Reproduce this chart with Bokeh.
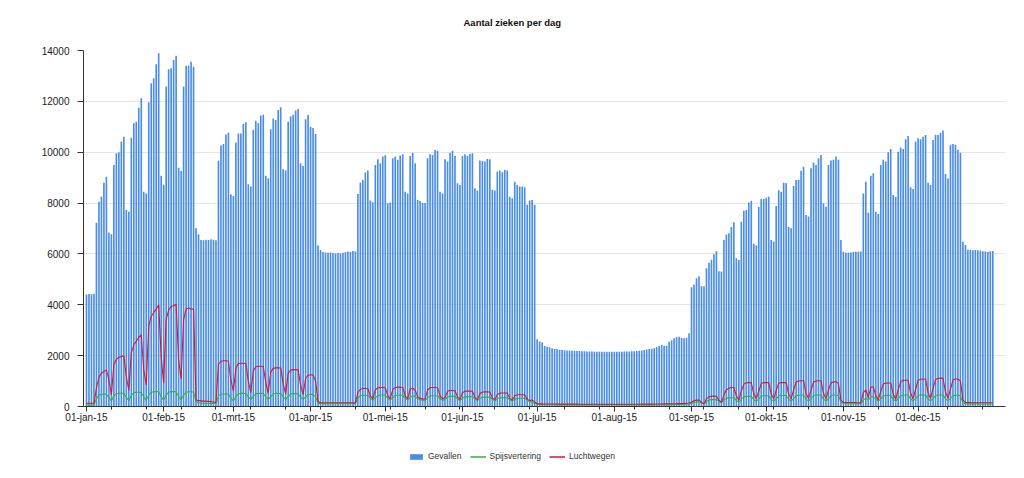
import pandas as pd
from bokeh.plotting import figure
from bokeh.layouts import column
from bokeh.core.properties import value
from bokeh.models import ColumnDataSource, FixedTicker, Legend, LegendItem
from bokeh.embed import file_html
from bokeh.resources import INLINE

# ---------------- data ----------------
title_text = "Aantal zieken per dag"
dates = pd.date_range("2015-01-01", "2015-12-31", freq="D")

month_labels = ["01-jan-15", "01-feb-15", "01-mrt-15", "01-apr-15", "01-mei-15", "01-jun-15",
                "01-jul-15", "01-aug-15", "01-sep-15", "01-okt-15", "01-nov-15", "01-dec-15"]

gevallen = [
    4400, 4420, 4410, 4430,
    7230, 8050, 8250, 8800, 9040, 6840, 6770,
    9500, 9960, 10000, 10420, 10610, 7730, 7660,
    10570, 11140, 11200, 11750, 12120, 8450, 8380,
    11960, 12710, 12910, 13460, 13890, 9070, 8720,
    12580, 13260, 13300, 13630, 13790, 9390, 9260,
    12580, 13400, 13400, 13560, 13360, 7010, 6770,
    6550, 6540, 6560, 6550, 6580, 6560, 6540,
    9660, 10260, 10320, 10700, 10770, 8350, 8280,
    10380, 10740, 10740, 11110, 11180, 8740, 8650,
    10880, 11240, 11140, 11440, 11470, 9070, 8970,
    10900, 11330, 11270, 11660, 11770, 9330, 9280,
    11200, 11400, 11470, 11640, 11700, 9560, 9460,
    11300, 11460, 11000, 10950, 10720, 6330, 6150,
    6080, 6060, 6050, 6060, 6040, 6020, 6040,
    6020, 6050, 6070, 6100, 6080, 6120, 6100,
    8360, 8800, 8910, 9200, 9280, 8100, 8030,
    9500, 9720, 9570, 9830, 9880, 7990, 8020,
    9760, 9830, 9700, 9870, 9920, 8450, 8380,
    9850, 9980, 9570, 8120, 8080, 8000, 8000,
    9760, 9920, 9890, 10090, 10060, 8450, 8380,
    9720, 9630, 9980, 10060, 9850, 8780, 8710,
    9850, 9920, 9850, 9930, 9960, 8580, 8490,
    9670, 9650, 9630, 9730, 9720, 8520, 8490,
    9240, 9280, 9210, 9300, 9280, 8250, 8190,
    8840, 8710, 8650, 8650, 8620, 7930, 8100,
    8120, 7930,
    2640, 2560, 2520, 2380, 2350, 2330, 2290, 2260, 2260, 2220,
    2220, 2210, 2200, 2200, 2190, 2190, 2180, 2180, 2170, 2170,
    2165, 2160, 2160, 2155, 2155, 2155, 2150, 2150, 2150, 2150,
    2150, 2155, 2150, 2155, 2155, 2160, 2160, 2165, 2170, 2175,
    2180, 2190, 2200, 2220, 2240, 2260, 2270, 2290, 2340, 2380,
    2420, 2390, 2390, 2550, 2610, 2680, 2720, 2740, 2690, 2680,
    2700, 2880,
    4690, 4800, 5040, 5120, 4730, 4730,
    5435, 5657, 5775, 5990, 6110, 5320, 5310,
    6548, 6760, 6810, 7060, 7250, 5830, 5760,
    7270, 7700, 7730, 8020, 8090, 6400, 6330,
    7850, 8160, 8160, 8210, 8250, 6550, 6480,
    7885, 8500, 8440, 8800, 8790, 7060, 7010,
    8670, 8910, 8910, 9275, 9430, 7530, 7470,
    9370, 9600, 9500, 9760, 9890, 7990, 7860,
    9500, 9670, 9700, 9830, 9700, 6550, 6090,
    6050, 6050, 6060, 6080, 6090, 6090, 6100,
    8380, 8840, 7620, 9070, 9170, 7660, 7570,
    9500, 9700, 9630, 10000, 10130, 8320, 8250,
    10020, 10190, 10130, 10510, 10640, 8620, 8550,
    10420, 10550, 10510, 10610, 10680, 8800, 8710,
    10480, 10680, 10680, 10770, 10850, 9140, 8970,
    10290, 10320, 10290, 10100, 9980,
    6480, 6350, 6160, 6150, 6140, 6150, 6140, 6130, 6110, 6100, 6080, 6110, 6120,
]

spijsvertering = [
    60, 60, 60, 60,
    300, 450, 480, 490, 480, 350, 220,
    420, 500, 520, 520, 510, 360, 230,
    440, 540, 560, 560, 550, 380, 240,
    460, 560, 580, 585, 580, 390, 250,
    460, 560, 580, 585, 580, 390, 250,
    460, 560, 580, 580, 560, 200, 150,
    130, 125, 120, 120, 120, 118, 118,
    420, 480, 490, 490, 480, 330, 220,
    400, 500, 515, 515, 510, 380, 280,
    400, 500, 515, 515, 510, 380, 280,
    390, 490, 510, 510, 505, 375, 280,
    390, 490, 505, 505, 500, 370, 280,
    380, 470, 480, 470, 380, 130, 110,
    110, 110, 110, 110, 110, 110, 110,
    110, 110, 110, 110, 110, 110, 110,
    330, 420, 440, 440, 430, 320, 250,
    350, 430, 450, 450, 440, 320, 250,
    350, 430, 445, 445, 440, 320, 250,
    350, 420, 400, 300, 270, 250, 240,
    340, 410, 420, 420, 415, 310, 240,
    280, 380, 400, 400, 395, 300, 235,
    320, 380, 390, 390, 385, 290, 230,
    310, 360, 370, 370, 365, 280, 225,
    300, 345, 350, 350, 345, 270, 220,
    280, 320, 325, 325, 320, 250, 200,
    180, 120,
    90, 80, 75, 72, 70, 68, 67, 66, 65, 65,
    64, 64, 63, 63, 62, 62, 62, 61, 61, 61,
    60, 60, 60, 60, 60, 60, 60, 60, 60, 60,
    60, 60, 60, 60, 60, 60, 60, 60, 60, 60,
    61, 61, 62, 62, 63, 63, 64, 65, 66, 67,
    68, 69, 70, 72, 74, 76, 78, 80, 82, 85,
    88, 95,
    120, 160, 180, 185, 140, 100,
    200, 250, 270, 275, 270, 200, 150,
    250, 320, 340, 345, 345, 240, 180,
    280, 380, 400, 405, 400, 270, 200,
    300, 400, 420, 425, 420, 280, 210,
    300, 410, 430, 435, 430, 285, 210,
    310, 420, 445, 450, 450, 290, 215,
    310, 430, 450, 455, 455, 290, 215,
    310, 430, 450, 455, 420, 180, 120,
    110, 110, 110, 110, 110, 110, 110,
    250, 330, 250, 380, 400, 280, 210,
    300, 410, 430, 435, 435, 290, 215,
    310, 420, 445, 450, 450, 295, 220,
    310, 430, 450, 455, 455, 300, 220,
    310, 430, 450, 455, 455, 300, 220,
    310, 420, 440, 440, 420,
    130, 110, 105, 104, 103, 102, 102, 101, 101, 100, 100, 100, 100,
]

luchtwegen = [
    130, 130, 130, 130,
    720, 1150, 1310, 1380, 1440, 1050, 460,
    1640, 1860, 1930, 1970, 1990, 1180, 630,
    2100, 2430, 2560, 2720, 2820, 1440, 850,
    3150, 3540, 3700, 3830, 4000, 1970, 920,
    3410, 3800, 3930, 3960, 4020, 1840, 1080,
    3410, 3830, 3870, 3840, 3830, 260, 230,
    220, 210, 200, 200, 190, 180, 160,
    1650, 1780, 1800, 1800, 1780, 1050, 600,
    1500, 1690, 1700, 1700, 1690, 1000, 550,
    1400, 1560, 1580, 1580, 1570, 950, 520,
    1350, 1500, 1520, 1520, 1510, 900, 500,
    1300, 1430, 1450, 1450, 1440, 850, 480,
    1100, 1230, 1250, 1240, 1000, 200, 150,
    150, 150, 150, 150, 150, 148, 148,
    146, 146, 145, 145, 145, 144, 144,
    550, 680, 710, 710, 700, 420, 300,
    650, 740, 750, 750, 740, 420, 300,
    660, 750, 760, 760, 750, 420, 300,
    680, 720, 650, 380, 320, 300, 290,
    650, 740, 750, 750, 740, 420, 300,
    350, 600, 630, 630, 620, 380, 280,
    540, 600, 605, 605, 600, 360, 270,
    500, 570, 575, 575, 570, 340, 260,
    470, 525, 530, 530, 525, 320, 250,
    420, 460, 465, 465, 455, 290, 230,
    260, 180,
    110, 105, 102, 100, 99, 98, 97, 96, 95, 95,
    94, 94, 93, 93, 92, 92, 92, 91, 91, 91,
    90, 90, 90, 90, 90, 90, 90, 90, 90, 90,
    90, 90, 90, 90, 90, 90, 90, 90, 90, 90,
    91, 91, 92, 92, 93, 94, 95, 96, 97, 98,
    100, 102, 104, 106, 108, 110, 112, 115, 118, 122,
    126, 135,
    180, 230, 250, 250, 160, 110,
    300, 380, 400, 410, 400, 250, 160,
    450, 650, 720, 750, 750, 420, 250,
    600, 880, 930, 940, 940, 500, 300,
    600, 900, 940, 940, 940, 500, 300,
    620, 910, 940, 945, 940, 500, 300,
    650, 960, 1000, 1010, 1015, 520, 310,
    650, 960, 1000, 1015, 1015, 520, 310,
    640, 930, 960, 980, 900, 250, 160,
    160, 158, 155, 155, 152, 150, 150,
    550, 650, 350, 760, 780, 420, 260,
    600, 880, 920, 925, 925, 480, 290,
    650, 980, 1020, 1030, 1030, 520, 300,
    680, 1030, 1070, 1080, 1080, 540, 310,
    700, 1060, 1100, 1115, 1115, 560, 320,
    680, 1040, 1080, 1080, 1000,
    250, 160, 155, 152, 150, 150, 150, 148, 148, 147, 146, 146, 145,
]

series_names = ["Gevallen", "Spijsvertering", "Luchtwegen"]

assert len(gevallen) == len(dates), len(gevallen)
assert len(spijsvertering) == len(dates), len(spijsvertering)
assert len(luchtwegen) == len(dates), len(luchtwegen)

day = list(range(len(dates)))
month_starts = [int(dates.get_loc(pd.Timestamp(2015, m, 1))) for m in range(1, 13)]
minor_ticks = [d for d in day if dates[d].dayofweek == 6 and (d - 10) % 14 == 0]

src = ColumnDataSource(dict(x=day, gevallen=gevallen, spijs=spijsvertering, lucht=luchtwegen))

FONT = "Liberation Sans"
BAR_COLOR = "#4a8de6"
GREEN = "#2fb62f"
RED = "#dc1432"


def strip(height):
    f = figure(width=1024, height=height, output_backend="svg", toolbar_location=None,
               x_range=(0, 922), y_range=(0, height), min_border=0,
               x_axis_location=None, y_axis_location=None,
               background_fill_color="white", border_fill_color="white")
    f.outline_line_color = None
    f.xgrid.grid_line_color = None
    f.ygrid.grid_line_color = None
    return f


# ---------------- title strip ----------------
tt = strip(30)
tt.text(x=[380], y=[8], text=[title_text], text_font=value(FONT), text_font_size="9.5px",
        text_font_style="bold", text_color="#111111", text_baseline="middle", text_align="left")

# ---------------- main chart ----------------
p = figure(width=1024, height=400, output_backend="svg", toolbar_location=None,
           x_range=(-1.2, 369.1), y_range=(0, 14000),
           min_border_left=83, min_border_right=19, min_border_top=20, min_border_bottom=24,
           background_fill_color="white", border_fill_color="white")
p.outline_line_color = None

p.vbar(x="x", top="gevallen", width=0.66, source=src, fill_color=BAR_COLOR, line_color=None)
p.line("x", "spijs", source=src, line_color=GREEN, line_width=1.1)
p.line("x", "lucht", source=src, line_color=RED, line_width=1.1)

p.xaxis.ticker = FixedTicker(ticks=month_starts, minor_ticks=minor_ticks)
p.xaxis.major_label_overrides = {s: lab for s, lab in zip(month_starts, month_labels)}
p.yaxis.ticker = FixedTicker(ticks=list(range(0, 14001, 2000)))
for ax in (p.xaxis[0], p.yaxis[0]):
    ax.axis_line_color = "#333333"
    ax.major_tick_line_color = "#333333"
    ax.minor_tick_line_color = "#333333"
    ax.major_tick_in = 0
    ax.minor_tick_in = 0
    ax.major_label_text_font = FONT
    ax.major_label_text_font_size = "10px"
    ax.major_label_text_color = "#222222"
p.xaxis.major_tick_out = 5
p.xaxis.minor_tick_out = 3
p.xaxis.major_label_standoff = 0
p.yaxis.major_tick_out = 6
p.yaxis.minor_tick_line_color = None
p.yaxis.major_label_standoff = 8

p.xgrid.grid_line_color = None
p.ygrid.grid_line_color = "#e6e6e6"
p.ygrid.grid_line_width = 1

# ---------------- legend strip ----------------
lg = strip(48)
off = ColumnDataSource(dict(x=[-50, -49], y=[-50, -50], top=[-50, -50]))
r_bar = lg.vbar(x="x", top="top", width=0.5, source=off, fill_color=BAR_COLOR, line_color=None)
r_g = lg.line("x", "y", source=off, line_color=GREEN, line_width=1.5)
r_r = lg.line("x", "y", source=off, line_color=RED, line_width=1.5)
legend = Legend(items=[LegendItem(label=series_names[0], renderers=[r_bar]),
                       LegendItem(label=series_names[1], renderers=[r_g]),
                       LegendItem(label=series_names[2], renderers=[r_r])],
                orientation="horizontal", location=(325, 17),
                border_line_color=None, background_fill_alpha=0,
                label_text_font=FONT, label_text_font_size="8.5px", label_text_color="#333333",
                glyph_width=16, glyph_height=7, spacing=8, label_standoff=4,
                padding=2, margin=0)
lg.add_layout(legend, "center")

layout = column(tt, p, lg, spacing=0)
open("out.html", "w").write(file_html(layout, INLINE))
